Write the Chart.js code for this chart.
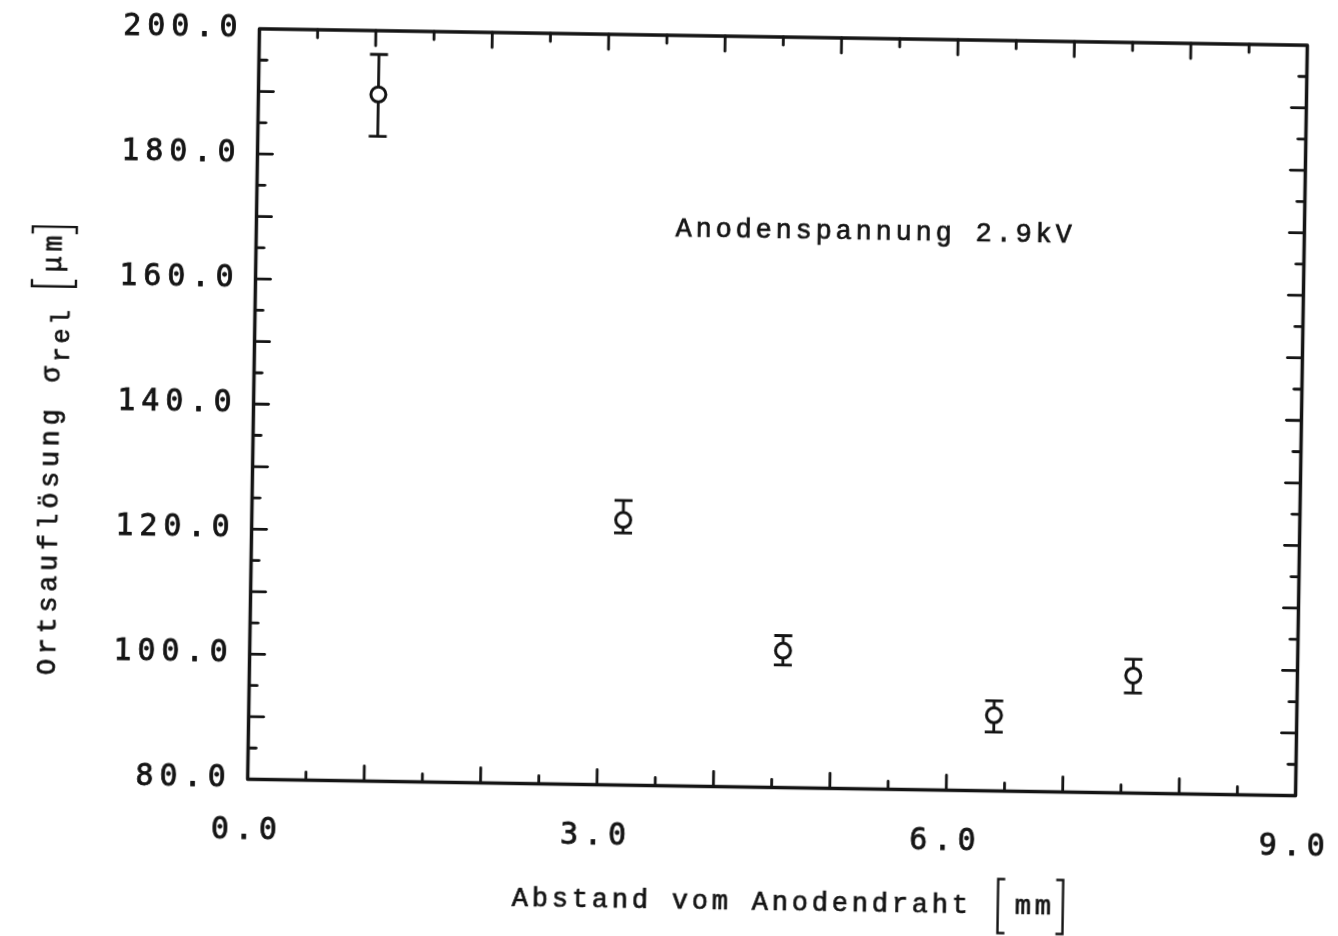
<!DOCTYPE html>
<html>
<head>
<meta charset="utf-8">
<title>Ortsauflösung</title>
<script src="https://cdn.jsdelivr.net/npm/chart.js@4.4.1/dist/chart.umd.min.js"></script>
<style>
  html, body { margin: 0; padding: 0; background: #fff; overflow: hidden; }
  #wrap { width: 1338px; height: 936px; transform: rotate(0.9deg); transform-origin: 777px 412px; }
  canvas { display: block; }
</style>
</head>
<body>
<div id="wrap"><canvas id="chart" width="1338" height="936"></canvas></div>
<script>
// Measured spatial resolution vs. distance from the anode wire
const distances      = [1.03, 3.19, 4.58, 6.40, 7.59];       // mm
const resolution     = [189.8, 122.4, 101.9, 92.1, 98.8];    // µm
const resolutionLow  = [183.1, 120.3, 99.6, 89.4, 96.0];     // lower end of error bar
const resolutionHigh = [196.2, 125.5, 104.3, 94.4, 101.4];   // upper end of error bar

// Axis tick labels
const xTickLabels = ['0.0', '3.0', '6.0', '9.0'];
const yTickLabels = ['80.0', '100.0', '120.0', '140.0', '160.0', '180.0', '200.0'];

// Texts
const xTitle = 'Abstand vom Anodendraht';
const xUnit = 'mm';
const yTitle = 'Ortsauflösung';
const ySymbol = 'σ';
const ySub = 'rel';
const yUnit = 'μm';
const note = 'Anodenspannung 2.9kV';
const notePos = { x: 3.6, y: 169 };

const INK = '#141414';
const TICK_FAMILY = '"DejaVu Sans Mono", monospace';
const TEXT_FAMILY = '"Liberation Mono", "DejaVu Sans Mono", monospace';

function labelFor(list, value) {
  const hit = list.find(l => Math.abs(parseFloat(l) - value) < 1e-6);
  return hit === undefined ? '' : hit;
}

// wide plotter-style spacing for the tick numbers
const spacing = {
  id: 'spacing',
  beforeLayout(c) { c.ctx.letterSpacing = '6px'; },
  beforeDraw(c) { c.ctx.letterSpacing = '6px'; }
};

// frame with inward tick marks on all four sides, plus error bars
const frame = {
  id: 'frame',
  beforeDatasetsDraw(c) {
    const { ctx, chartArea: a, scales: { x, y } } = c;
    ctx.save();
    ctx.strokeStyle = INK;
    ctx.lineCap = 'round';
    ctx.lineJoin = 'round';
    ctx.lineWidth = 3.5;
    ctx.strokeRect(a.left, a.top, a.right - a.left, a.bottom - a.top);
    ctx.lineWidth = 2.8;
    ctx.beginPath();
    x.ticks.forEach(t => {
      if (t.value <= x.min || t.value >= x.max) return;
      const px = x.getPixelForValue(t.value);
      const len = Number.isInteger(t.value) ? 15 : 8;
      ctx.moveTo(px, a.bottom); ctx.lineTo(px, a.bottom - len);
      ctx.moveTo(px, a.top); ctx.lineTo(px, a.top + len);
    });
    y.ticks.forEach(t => {
      if (t.value <= y.min || t.value >= y.max) return;
      const py = y.getPixelForValue(t.value);
      const len = t.value % 10 === 0 ? 15 : 8;
      ctx.moveTo(a.left, py); ctx.lineTo(a.left + len, py);
      ctx.moveTo(a.right, py); ctx.lineTo(a.right - len, py);
    });
    ctx.stroke();

    ctx.lineWidth = 2.8;
    ctx.lineCap = 'butt';
    ctx.beginPath();
    distances.forEach((d, i) => {
      const px = x.getPixelForValue(d);
      const lo = y.getPixelForValue(resolutionLow[i]);
      const hi = y.getPixelForValue(resolutionHigh[i]);
      ctx.moveTo(px, lo); ctx.lineTo(px, hi);
      ctx.moveTo(px - 9, lo); ctx.lineTo(px + 9, lo);
      ctx.moveTo(px - 9, hi); ctx.lineTo(px + 9, hi);
    });
    ctx.stroke();
    ctx.restore();
  }
};

function bracket(ctx, x, half, dir) {
  ctx.beginPath();
  ctx.moveTo(x + dir * 7, -half);
  ctx.lineTo(x, -half);
  ctx.lineTo(x, half);
  ctx.lineTo(x + dir * 7, half);
  ctx.stroke();
}

// text drawn with a slight outline for a typewriter weight
function ink(ctx, s, x, y) {
  ctx.fillText(s, x, y);
  ctx.strokeText(s, x, y);
}

// axis titles and the voltage note
const texts = {
  id: 'texts',
  afterDraw(c) {
    const { ctx, chartArea: a, scales: { x, y } } = c;
    ctx.save();
    ctx.fillStyle = INK;
    ctx.strokeStyle = INK;
    ctx.textBaseline = 'middle';
    ctx.textAlign = 'left';
    ctx.letterSpacing = '3.8px';
    ctx.font = '27px ' + TEXT_FAMILY;
    ctx.lineWidth = 0.7;

    // note inside the plot
    ink(ctx, note, x.getPixelForValue(notePos.x), y.getPixelForValue(notePos.y));

    // x title
    ctx.save();
    ctx.translate(a.left + 266, a.bottom + 115);
    let cx = 0;
    ink(ctx, xTitle, cx, 0);
    cx += ctx.measureText(xTitle).width + 26;
    ctx.lineWidth = 2.4;
    bracket(ctx, cx, 27, 1);
    cx += 17;
    ctx.lineWidth = 0.7;
    ink(ctx, xUnit, cx, 0);
    cx += ctx.measureText(xUnit).width + 8;
    ctx.lineWidth = 2.4;
    bracket(ctx, cx, 27, -1);
    ctx.restore();

    // y title, reading upwards
    ctx.save();
    ctx.translate(52, a.bottom - 101);
    ctx.rotate(-Math.PI / 2);
    ctx.letterSpacing = '4.6px';
    ctx.lineWidth = 0.7;
    cx = 0;
    ink(ctx, yTitle, cx, 0);
    cx += ctx.measureText(yTitle).width + 22;
    ink(ctx, ySymbol, cx, 0);
    cx += ctx.measureText(ySymbol).width;
    ctx.font = '25px ' + TEXT_FAMILY;
    ctx.letterSpacing = '3.5px';
    ink(ctx, ySub, cx, 9);
    cx += ctx.measureText(ySub).width + 20;
    ctx.font = '27px ' + TEXT_FAMILY;
    ctx.letterSpacing = '4.6px';
    ctx.lineWidth = 2.4;
    bracket(ctx, cx, 22, 1);
    cx += 14;
    ctx.lineWidth = 0.7;
    ink(ctx, yUnit, cx, 0);
    cx += ctx.measureText(yUnit).width + 4;
    ctx.lineWidth = 2.4;
    bracket(ctx, cx, 22, -1);
    ctx.restore();

    ctx.restore();
  }
};

new Chart(document.getElementById('chart'), {
  type: 'scatter',
  data: {
    datasets: [{
      data: distances.map((d, i) => ({ x: d, y: resolution[i] })),
      pointRadius: 7.5,
      pointHoverRadius: 7.5,
      borderWidth: 3,
      borderColor: INK,
      backgroundColor: '#fff'
    }]
  },
  options: {
    responsive: false,
    animation: false,
    events: [],
    layout: { padding: { top: 37, right: 36.5, bottom: 0, left: 0 } },
    plugins: { legend: { display: false }, tooltip: { enabled: false } },
    scales: {
      x: {
        type: 'linear', min: 0, max: 9,
        grid: { display: false, drawTicks: false },
        border: { display: false },
        ticks: {
          stepSize: 0.5, autoSkip: false, maxRotation: 0, minRotation: 0,
          padding: 34, color: INK,
          textStrokeColor: INK, textStrokeWidth: 0.8,
          font: { family: TICK_FAMILY, size: 30 },
          callback: v => labelFor(xTickLabels, v)
        },
        afterFit(s) { s.height = 148.5; s.paddingLeft = 0; s.paddingRight = 0; }
      },
      y: {
        type: 'linear', min: 80, max: 200,
        grid: { display: false, drawTicks: false },
        border: { display: false },
        ticks: {
          stepSize: 5, autoSkip: false,
          padding: 16, color: INK,
          textStrokeColor: INK, textStrokeWidth: 0.8,
          font: { family: TICK_FAMILY, size: 30 },
          callback: v => labelFor(yTickLabels, v)
        },
        afterFit(s) { s.width = 253.5; s.paddingTop = 0; s.paddingBottom = 0; }
      }
    }
  },
  plugins: [spacing, frame, texts]
});
</script>
</body>
</html>
